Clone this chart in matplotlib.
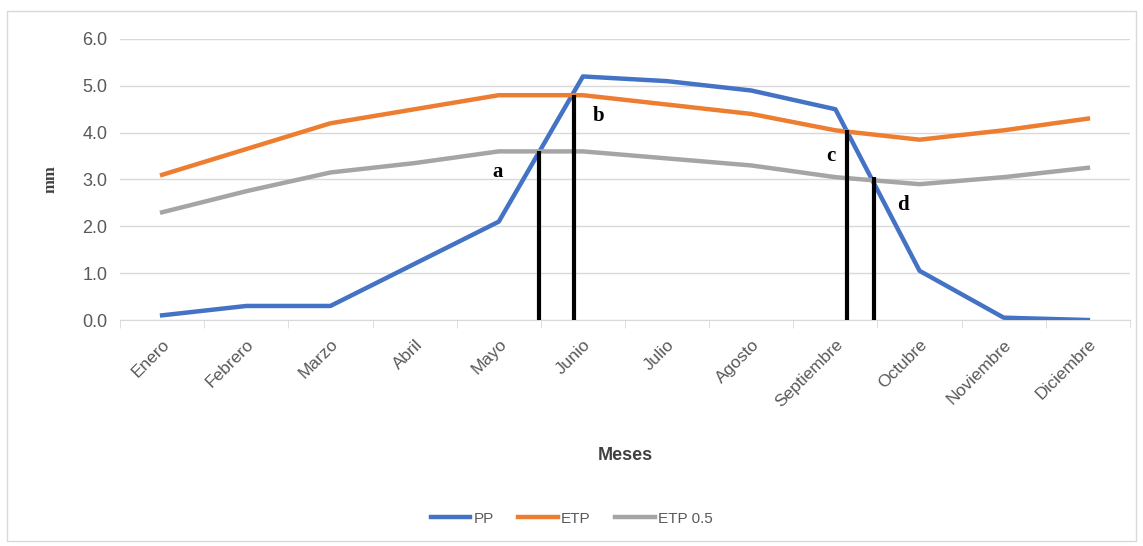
import matplotlib.pyplot as plt
from matplotlib.patches import Rectangle
import numpy as np

meses = ['Enero', 'Febrero', 'Marzo', 'Abril', 'Mayo', 'Junio', 'Julio',
         'Agosto', 'Septiembre', 'Octubre', 'Noviembre', 'Diciembre']
pp = [0.1, 0.3, 0.3, 1.2, 2.1, 5.2, 5.1, 4.9, 4.5, 1.05, 0.05, 0.0]
etp = [3.1, 3.65, 4.2, 4.5, 4.8, 4.8, 4.6, 4.4, 4.05, 3.85, 4.05, 4.3]
etp_05 = [2.3, 2.75, 3.15, 3.35, 3.6, 3.6, 3.45, 3.3, 3.05, 2.9, 3.05, 3.25]

# crossing markers: position on the month axis, height, label
cruce_x = [4.48, 4.89, 8.14, 8.46]
cruce_y = [3.6, 4.8, 4.05, 3.05]
cruce_txt = ['a', 'b', 'c', 'd']
txt_pos = [(3.98, 3.15), (5.18, 4.35), (7.95, 3.5), (8.8, 2.45)]

plt.rcParams['font.family'] = ['Liberation Sans', 'DejaVu Sans']

fig = plt.figure(figsize=(11.43, 5.46), dpi=100)
fig.patches.append(Rectangle((0.006, 0.01), 0.988, 0.97, transform=fig.transFigure,
                             fill=False, edgecolor='#d9d9d9', linewidth=1))
ax = fig.add_axes([0.105, 0.4139, 0.8836, 0.5147])

x = np.arange(len(meses))
ax.plot(x, pp, color='#4472C4', linewidth=3.2, label='PP', zorder=3)
ax.plot(x, etp, color='#ED7D31', linewidth=3.2, label='ETP', zorder=3)
ax.plot(x, etp_05, color='#A5A5A5', linewidth=3.2, label='ETP 0.5', zorder=3)

for xc, yc in zip(cruce_x, cruce_y):
    ax.vlines(xc, 0, yc, color='black', linewidth=3, zorder=4)
for t, (tx, ty) in zip(cruce_txt, txt_pos):
    ax.text(tx, ty, t, family=['Liberation Serif'], fontweight='bold', fontsize=15,
            ha='center', va='center', zorder=5)

ax.set_xlim(-0.5, 11.5)
ax.set_ylim(0, 6)
ax.set_yticks(np.arange(0, 6.1, 1.0))
ax.set_yticklabels([f'{v:.1f}' for v in np.arange(0, 6.1, 1.0)])
ax.set_xticks(x)
ax.set_xticklabels(meses, rotation=45, ha='right', rotation_mode='anchor')
ax.set_xticks(np.arange(-0.5, 12, 1), minor=True)
ax.tick_params(axis='x', which='major', length=0, pad=12, labelsize=12.5, colors='#595959')
ax.tick_params(axis='x', which='minor', length=6, color='#d9d9d9')
ax.tick_params(axis='y', length=0, pad=9, labelsize=13, colors='#595959')
ax.grid(axis='y', color='#d9d9d9', linewidth=1)
ax.set_axisbelow(True)
for s in ['top', 'right', 'left']:
    ax.spines[s].set_visible(False)
ax.spines['bottom'].set_color('#d9d9d9')

ax.set_ylabel('mm', fontsize=12, fontweight='bold', color='#404040', labelpad=17,
              family=['Liberation Serif'])
ax.set_xlabel('Meses', fontsize=13, fontweight='bold', color='#404040', labelpad=27)

fig.legend(loc='center', bbox_to_anchor=(0.5, 0.05), ncol=3, frameon=False,
           fontsize=11, handlelength=2.6, handletextpad=0.2, columnspacing=1.6,
           labelcolor='#595959')

plt.savefig('out.png', dpi=100)
